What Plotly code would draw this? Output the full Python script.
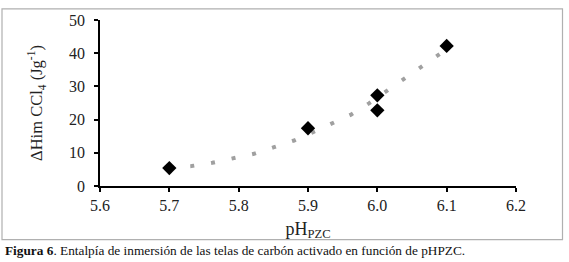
import plotly.graph_objects as go

# Measured data (black diamonds)
ph_pzc = [5.70, 5.90, 6.00, 6.00, 6.10]
dh_ccl4 = [5.4, 17.4, 27.3, 22.8, 42.2]

# Trendline (grey dotted)
trend_x = [5.70, 5.732, 5.762, 5.792, 5.822, 5.851, 5.880, 5.908, 5.936, 5.962, 5.988, 6.013, 6.038, 6.063, 6.088, 6.10]
trend_y = [5.5, 6.0, 7.0, 8.2, 9.7, 11.7, 13.7, 16.3, 18.9, 21.5, 24.9, 28.5, 32.1, 35.8, 39.4, 41.2]

x_ticks = [5.6, 5.7, 5.8, 5.9, 6.0, 6.1, 6.2]
y_ticks = [0, 10, 20, 30, 40, 50]

SERIF = "Liberation Serif"

fig = go.Figure()
fig.add_trace(go.Scatter(
    x=trend_x, y=trend_y, mode="lines",
    line=dict(color="#a0a0a0", width=4, dash="4px,17px"),
    showlegend=False, hoverinfo="skip"))
fig.add_trace(go.Scatter(
    x=ph_pzc, y=dh_ccl4, mode="markers",
    marker=dict(symbol="diamond", size=11, color="black"),
    showlegend=False))

axis_common = dict(
    showgrid=False, zeroline=False, showline=True, linecolor="black", linewidth=1.5,
    ticks="outside", ticklen=4, tickwidth=1.5, tickcolor="black",
    tickfont=dict(family=SERIF, size=16, color="#222"),
)

fig.update_xaxes(range=[5.6, 6.2], tickvals=x_ticks, ticktext=[f"{v:.1f}" for v in x_ticks],
                 title=dict(text="pH<sub>PZC</sub>", font=dict(family=SERIF, size=18, color="#222"), standoff=9),
                 **axis_common)
fig.update_yaxes(range=[0, 50], tickvals=y_ticks, ticklabelstandoff=6,
                 title=dict(text="ΔHim CCl<sub>4</sub> (Jg<sup>-1</sup>)", font=dict(family=SERIF, size=16.5, color="#222"), standoff=22),
                 **axis_common)

# plot area: x 100..516, y 14..186
L, R, T, B = 100, 516, 14, 186
W, H = 569, 262
pw, ph = R - L, B - T

def px(xp):
    return (xp - L) / pw

def py(yp):
    return 1 - (yp - T) / ph

fig.add_shape(type="rect", xref="paper", yref="paper",
              x0=px(2), x1=px(562.5), y0=py(241.5), y1=py(2.5),
              line=dict(color="#b0b0b0", width=1.2), layer="below")

fig.add_annotation(xref="paper", yref="paper", x=px(3), y=py(252.5),
                   xanchor="left", yanchor="middle", showarrow=False,
                   text="<b>Figura 6</b>. Entalpía de inmersión de las telas de carbón activado en función de pHPZC.",
                   font=dict(family=SERIF, size=13.3, color="#111"))

fig.update_layout(width=W, height=H, autosize=False,
                  margin=dict(l=L, r=W - R, t=T, b=H - B),
                  paper_bgcolor="white", plot_bgcolor="white")

fig.write_html("out.html", config={"displayModeBar": False},
               post_script="document.body.style.margin='0';document.body.style.padding='0';")
